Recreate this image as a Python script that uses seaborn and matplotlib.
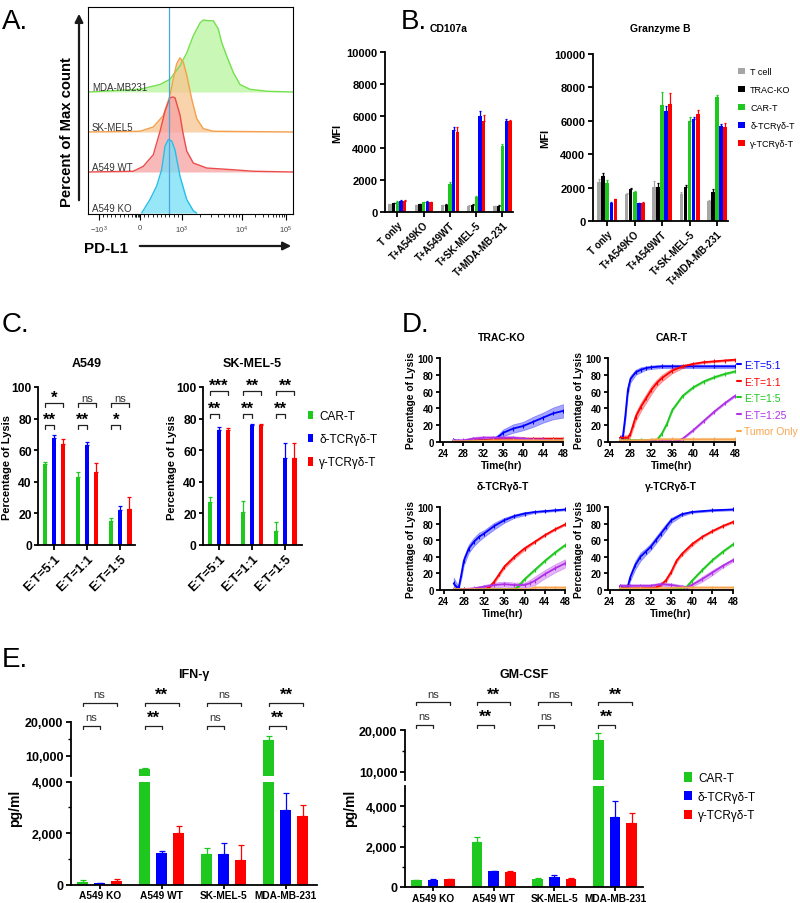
import numpy as np
import pandas as pd
import matplotlib
matplotlib.use("Agg")
import matplotlib.pyplot as plt
import seaborn as sns
from matplotlib.transforms import blended_transform_factory
from matplotlib.lines import Line2D
from matplotlib.patches import Patch

# ======================= DATA =======================
# ---- Panel A: PD-L1 flow histograms (x: display channel, y: % of max) ----
a_labels = ["MDA-MB231", "SK-MEL5", "A549 WT", "A549 KO"]
a_mda_x = [0, 52, 72, 82, 92, 98.7, 105.3, 112, 115.3, 120.3, 125.3, 130.3, 133.7, 138.7, 145.3, 152, 162, 178.7, 205]
a_mda_y = [0, 3.6, 10, 17, 35, 52, 75, 92, 96, 95, 95, 84, 66, 48, 26, 10, 3.6, 1, 0]
a_sk_x = [0, 52, 65.3, 75.3, 82, 85.3, 88.7, 92, 95.3, 98.7, 103.7, 108.7, 115.3, 125.3, 205]
a_sk_y = [0, 1, 6.7, 22, 49, 71, 91, 99, 93, 76, 44, 18, 4.4, 1, 0]
a_wt_x = [0, 45.3, 55.3, 65.3, 72, 77, 82, 84.7, 87, 92, 94.7, 98.7, 105.3, 118.7, 145.3, 165.3, 205]
a_wt_y = [0, 1, 7.6, 23, 54, 81, 99, 100, 99, 76, 54, 28, 12, 5.3, 3, 1, 0]
a_ko_x = [53.7, 62, 68.7, 73.7, 77, 80.3, 83.7, 87, 92, 98.7, 105.3, 108.7]
a_ko_y = [0, 18, 36, 58, 89, 98, 96, 84, 49, 18, 3, 0]
a_tick_pos = [11, 52, 94, 154, 198]
a_tick_lab = [r"$-10^3$", "0", r"$10^3$", r"$10^4$", r"$10^5$"]
a_gate = 81

# ---- Panel B: MFI ----
b_groups = ["T only", "T+A549KO", "T+A549WT", "T+SK-MEL-5", "T+MDA-MB-231"]
b_series = ["T cell", "TRAC-KO", "CAR-T", "δ-TCRγδ-T", "γ-TCRγδ-T"]
cd107a_mean = [[480, 420, 420, 380, 380],
               [540, 500, 460, 440, 400],
               [650, 610, 1780, 920, 4140],
               [710, 650, 5130, 6030, 5670],
               [710, 610, 4980, 5710, 5710]]
cd107a_err = [[40, 30, 30, 30, 20],
              [40, 30, 30, 30, 20],
              [40, 30, 70, 60, 100],
              [40, 30, 210, 270, 150],
              [40, 30, 350, 360, 40]]
gzmb_mean = [[2340, 1600, 2060, 1640, 1200],
             [2700, 1900, 2060, 2040, 1760],
             [2300, 1740, 6940, 6000, 7400],
             [1100, 1060, 6600, 6100, 5660],
             [1300, 1100, 6980, 6400, 5600]]
gzmb_err = [[200, 60, 340, 80, 40],
            [200, 60, 240, 140, 180],
            [140, 60, 760, 200, 160],
            [40, 30, 280, 140, 140],
            [40, 40, 660, 260, 240]]

# ---- Panel C: lysis ----
c_groups = ["E:T=5:1", "E:T=1:1", "E:T=1:5"]
c_series = ["CAR-T", "δ-TCRγδ-T", "γ-TCRγδ-T"]
a549_mean = [[51, 43, 15], [67.5, 63, 22], [64, 46, 22.5]]
a549_err = [[1.5, 3, 2], [2, 2.5, 2.5], [3, 6, 8]]
sk_mean = [[27.4, 21, 9], [73, 76, 55], [73, 76, 55]]
sk_err = [[3, 7, 5.5], [2, 0.6, 9.5], [1, 0.6, 9.5]]
a549_sig_low = ["**", "**", "*"]
a549_sig_up = ["*", "ns", "ns"]
sk_sig_low = ["**", "**", "**"]
sk_sig_up = ["***", "**", "**"]

# ---- Panel D: real-time lysis (time hr, mean %, band half-width) ----
d_series = ["E:T=5:1", "E:T=1:1", "E:T=1:5", "E:T=1:25", "Tumor Only"]
d_trac = {
    "E:T=5:1": ([26, 27, 28, 30, 32, 34, 35, 36, 38, 40, 42, 44, 46, 48],
                [2, 1, 1, 1, 2, 3, 6, 11, 16, 19, 24, 29, 34, 37],
                [2, 1, 1, 1, 1, 2, 3, 4, 5, 5, 6, 6, 7, 8]),
    "E:T=1:1": ([26, 28, 30, 32, 34, 36, 38, 40, 42, 44, 46, 48],
                [1, 1, 2, 2, 3, 4, 4, 4, 4, 4, 4, 4],
                [1, 1, 1, 1, 1, 1, 1, 1, 1, 1, 1, 1]),
    "E:T=1:5": ([26, 30, 34, 38, 42, 46, 48],
                [1, 1, 1, 1, 1, 2, 2],
                [1, 1, 1, 1, 1, 1, 1]),
    "E:T=1:25": ([26, 28, 30, 32, 34, 36, 38, 40, 42, 44, 46, 48],
                 [2, 2, 4, 5, 5, 5, 5, 4, 3, 3, 2, 2],
                 [1, 1, 2, 2, 2, 2, 2, 2, 1, 1, 1, 1]),
    "Tumor Only": ([26, 30, 34, 38, 42, 46, 48],
                   [1, 1, 2, 2, 2, 2, 2],
                   [1, 1, 1, 1, 1, 1, 1]),
}
d_cart = {
    "E:T=5:1": ([26, 26.5, 27, 27.5, 28, 29, 30, 31, 32, 34, 36, 40, 44, 48],
                [5, 4, 30, 62, 75, 83, 86, 88, 89, 90, 90, 90, 90, 90],
                [3, 3, 5, 5, 4, 3, 3, 2, 2, 2, 2, 2, 2, 2]),
    "E:T=1:1": ([26, 27, 27.5, 28, 28.5, 29, 30, 31, 32, 33, 34, 36, 38, 40, 42, 44, 46, 48],
                [5, 5, 5, 10, 20, 30, 42, 52, 62, 70, 76, 85, 90, 93, 95, 96, 97, 98],
                [3, 3, 3, 3, 4, 5, 5, 5, 5, 4, 4, 3, 2, 1, 1, 1, 1, 1]),
    "E:T=1:5": ([26, 28, 30, 32, 33, 34, 35, 36, 38, 40, 42, 44, 46, 48],
                [2, 2, 2, 2, 2, 10, 22, 38, 55, 65, 72, 77, 81, 84],
                [1, 1, 1, 1, 1, 1, 1, 1, 1, 1, 1, 1, 1, 1]),
    "E:T=1:25": ([26, 30, 34, 37, 38, 40, 42, 44, 46, 48],
                 [1, 1, 1, 1, 4, 14, 25, 36, 46, 55],
                 [1, 1, 1, 1, 1, 1, 1, 1, 1, 1]),
    "Tumor Only": ([26, 30, 33, 36, 40, 44, 48],
                   [2, 2, 3, 3, 3, 3, 3],
                   [1, 1, 2, 2, 2, 2, 2]),
}
d_delta = {
    "E:T=5:1": ([26, 26.5, 27, 27.5, 28, 29, 30, 31, 32, 34, 36, 38, 40, 42, 44, 46, 48],
                [8, 4, 3, 18, 35, 50, 58, 64, 68, 77, 84, 89, 92, 94, 95, 96, 97],
                [7, 5, 2, 4, 5, 5, 5, 5, 4, 4, 3, 2, 2, 1, 1, 1, 1]),
    "E:T=1:1": ([26, 28, 30, 32, 33, 34, 35, 36, 38, 40, 42, 44, 46, 48],
                [1, 1, 1, 1, 3, 10, 19, 28, 40, 50, 58, 66, 73, 79],
                [1, 1, 1, 1, 1, 2, 2, 2, 2, 2, 1, 1, 1, 1]),
    "E:T=1:5": ([26, 30, 34, 38, 38.5, 39, 40, 42, 44, 46, 48],
                [1, 1, 1, 1, 3, 6, 13, 24, 35, 45, 54],
                [1, 1, 1, 1, 1, 1, 1, 1, 1, 1, 1]),
    "E:T=1:25": ([26, 28, 30, 32, 34, 36, 38, 40, 41, 42, 44, 46, 48],
                 [1, 1, 2, 4, 6, 7, 6, 6, 8, 11, 19, 26, 32],
                 [1, 1, 1, 2, 3, 3, 3, 3, 4, 5, 5, 5, 5]),
    "Tumor Only": ([26, 30, 34, 38, 41, 42, 44, 46, 48],
                   [1, 1, 1, 1, 1, 3, 3, 3, 3],
                   [1, 1, 1, 1, 1, 1, 1, 1, 1]),
}
d_gamma = {
    "E:T=5:1": ([26, 26.5, 27, 27.5, 28, 29, 30, 31, 32, 33, 34, 35, 36, 38, 40, 44, 48],
                [4, 3, 2, 3, 15, 30, 40, 46, 52, 60, 68, 76, 84, 91, 94, 96, 97],
                [3, 3, 2, 3, 4, 5, 5, 4, 4, 4, 4, 4, 3, 2, 1, 1, 1]),
    "E:T=1:1": ([26, 30, 33, 34, 35, 36, 37, 38, 40, 42, 44, 46, 48],
                [2, 2, 3, 6, 12, 22, 35, 43, 55, 64, 71, 77, 82],
                [1, 1, 1, 1, 2, 2, 2, 2, 2, 1, 1, 1, 1]),
    "E:T=1:5": ([26, 30, 34, 38, 38.5, 39, 40, 42, 44, 46, 48],
                [1, 1, 1, 1, 2, 4, 11, 24, 36, 46, 55],
                [1, 1, 1, 1, 1, 1, 1, 1, 1, 1, 1]),
    "E:T=1:25": ([26, 28, 30, 32, 34, 36, 38, 39, 40, 42, 44, 46, 48],
                 [5, 5, 5, 5, 7, 6, 4, 3, 6, 13, 21, 29, 36],
                 [2, 2, 2, 2, 2, 2, 2, 2, 2, 3, 3, 2, 2]),
    "Tumor Only": ([26, 30, 34, 38, 40, 44, 48],
                   [2, 2, 2, 3, 3, 3, 3],
                   [1, 1, 1, 1, 1, 1, 1]),
}

# ---- Panel E: cytokines (pg/ml) ----
e_groups = ["A549 KO", "A549 WT", "SK-MEL-5", "MDA-MB-231"]
ifn_mean = [[100, 6100, 1200, 14600], [50, 1250, 1200, 2900], [150, 2025, 943, 2674]]
ifn_err = [[80, 300, 220, 1300], [20, 40, 415, 660], [70, 255, 607, 426]]
gm_mean = [[330, 2250, 400, 17600], [360, 770, 500, 3450], [390, 750, 420, 3170]]
gm_err = [[20, 250, 30, 1600], [30, 30, 100, 800], [20, 30, 40, 480]]
e_sig_low = ["ns", "**", "ns", "**"]
e_sig_up = ["ns", "**", "ns", "**"]

# ======================= STYLE =======================
GRAY, BLACK, GREEN, BLUE, RED = "#a6a6a6", "#000000", "#1ec81e", "#0000ff", "#ff0000"
MAG, ORANGE = "#b030e8", "#f7a54f"
pal_b = dict(zip(b_series, [GRAY, BLACK, GREEN, BLUE, RED]))
pal_c = dict(zip(c_series, [GREEN, BLUE, RED]))
pal_d = dict(zip(d_series, [BLUE, RED, GREEN, MAG, ORANGE]))

sns.set_theme(style="ticks")
plt.rcParams.update({
    "font.family": ["Liberation Sans", "DejaVu Sans"],
    "font.weight": "bold",
    "axes.labelweight": "bold",
    "axes.titleweight": "bold",
    "axes.linewidth": 1.3,
    "axes.edgecolor": "black",
    "text.color": "black",
    "axes.labelcolor": "black",
    "xtick.color": "black",
    "ytick.color": "black",
    "xtick.major.width": 1.3,
    "ytick.major.width": 1.3,
    "xtick.minor.width": 1.0,
    "ytick.minor.width": 1.0,
    "xtick.major.size": 3.5,
    "ytick.major.size": 3.5,
    "ytick.minor.size": 2.5,
    "xtick.major.pad": 2,
    "ytick.major.pad": 2,
    "mathtext.default": "regular",
})

W, H = 800, 904
fig = plt.figure(figsize=(W / 100, H / 100), dpi=100)


def rect(l, t, r, b):
    return [l / W, 1 - b / H, (r - l) / W, (b - t) / H]


def fy(px):
    return 1 - px / H


def style_ax(ax):
    sns.despine(ax=ax)
    ax.tick_params(direction="out")


def bars(ax, groups, series, values, errors, palette, width, gap, capsize=1.5):
    rows = []
    for s, vals in zip(series, values):
        for g, v in zip(groups, vals):
            rows.append((g, s, v))
    df = pd.DataFrame(rows, columns=["group", "series", "value"])
    sns.barplot(data=df, x="group", y="value", hue="series", order=groups, hue_order=series,
                palette=palette, width=width, gap=gap, errorbar=None, legend=False,
                saturation=1, linewidth=0, ax=ax)
    rects = sorted(ax.patches, key=lambda p: p.get_x())
    centers = {}
    i = 0
    for gi in range(len(groups)):
        for si in range(len(series)):
            p = rects[i]
            centers[(gi, si)] = p.get_x() + p.get_width() / 2
            i += 1
    for si, s in enumerate(series):
        xs = [centers[(gi, si)] for gi in range(len(groups))]
        ax.errorbar(xs, values[si], yerr=[np.zeros(len(groups)), errors[si]], fmt="none",
                    ecolor=palette[s], elinewidth=0.9, capsize=capsize, capthick=0.9)
    ax.set_xlabel("")
    ax.set_ylabel("")
    return centers


def bracket(ax, x1, x2, y, dy, text, ty, tr):
    ax.plot([x1, x1, x2, x2], [y - dy, y, y, y - dy], color="#222222", lw=0.9,
            transform=tr, clip_on=False)
    if text == "ns":
        ax.text((x1 + x2) / 2, ty, text, transform=tr, ha="center", va="center",
                fontsize=8, fontweight="normal", color="#333333", clip_on=False)
    else:
        ax.text((x1 + x2) / 2, ty, text, transform=tr, ha="center", va="center",
                fontsize=12, fontweight="bold", clip_on=False)


# ======================= PANEL A =======================
axA = fig.add_axes(rect(88, 8, 293, 215))
hist_specs = [
    (a_mda_x, a_mda_y, "#b8f59c", "#74e04e", 122),
    (a_sk_x, a_sk_y, "#f8c590", "#f4a04c", 82),
    (a_wt_x, a_wt_y, "#f7a2a2", "#ec4c4c", 42),
    (a_ko_x, a_ko_y, "#74dff7", "#26bfea", 1),
]
hscale = 0.75
for (xs, ys, face, edge, off), lab in zip(hist_specs, a_labels):
    yv = off + np.array(ys) * hscale
    axA.fill_between(xs, off, yv, color=face, alpha=0.75, lw=0)
    sns.lineplot(x=xs, y=yv, ax=axA, color=edge, lw=1.0, sort=False)
    axA.text(4, off + 5, lab, fontsize=7, fontweight="normal", color="#333333", va="center")
axA.axvline(a_gate, color="#4aa6e0", lw=0.9)
axA.set_xlim(0, 205)
axA.set_ylim(0, 207)
axA.set_yticks([])
axA.set_xticks(a_tick_pos)
axA.set_xticklabels(a_tick_lab, fontsize=5.5, fontweight="normal", color="#444444")
minor = []
minor += [11 + k * 4.1 for k in range(1, 10)]
minor += [52 - k * 1.2 for k in range(1, 5)] + [52 + k * 4.2 for k in range(1, 10)]
minor += [94 + 60 * np.log10(k) for k in range(2, 10)]
minor += [154 + 44 * np.log10(k) for k in range(2, 10)]
axA.set_xticks(minor, minor=True)
axA.tick_params(axis="x", which="major", length=4, width=0.8, pad=3)
axA.tick_params(axis="x", which="minor", length=2.5, width=0.6)
for sp in axA.spines.values():
    sp.set_linewidth(0.8)
axA.set_xlabel("")
axA.set_ylabel("")
fig.text(67 / W, fy(132), "Percent of Max count", rotation=90, ha="center", va="center",
         fontsize=10.7, fontweight="bold")
fig.text(106 / W, fy(249), "PD-L1", ha="center", va="center", fontsize=11, fontweight="bold")
axA.annotate("", xy=(79, H - 12), xytext=(79, H - 204), xycoords="figure pixels",
             textcoords="figure pixels",
             arrowprops=dict(arrowstyle="-|>", lw=1.6, color="k", mutation_scale=12))
axA.annotate("", xy=(294, H - 247), xytext=(137, H - 247), xycoords="figure pixels",
             textcoords="figure pixels",
             arrowprops=dict(arrowstyle="-|>", lw=1.6, color="k", mutation_scale=12))

# ======================= PANEL B =======================
axB1 = fig.add_axes(rect(385, 53, 513, 213))
bars(axB1, b_groups, b_series, cd107a_mean, cd107a_err, pal_b, 0.7, 0.1, capsize=1)
axB1.set_xlim(-0.47, 4.4)
axB2 = fig.add_axes(rect(593, 55, 728, 222))
bars(axB2, b_groups, b_series, gzmb_mean, gzmb_err, pal_b, 0.74, 0.1, capsize=1)
axB2.set_xlim(-0.52, 4.4)
for ax, title, pad in [(axB1, "CD107a", 15), (axB2, "Granzyme B", 16.5)]:
    style_ax(ax)
    ax.set_ylim(0, 10000)
    ax.set_yticks(range(0, 10001, 2000))
    ax.tick_params(labelsize=8)
    ax.set_xticks(range(len(b_groups)))
    ax.set_xticklabels(b_groups, rotation=45, ha="right", rotation_mode="anchor", fontsize=7)
    ax.set_ylabel("MFI", fontsize=8, labelpad=3)
    ax.set_title(title, fontsize=7.5, pad=pad)
fig.legend(handles=[Patch(facecolor=pal_b[s], edgecolor="none") for s in b_series],
           labels=b_series, loc="upper left", bbox_to_anchor=(738 / W, fy(68)),
           frameon=False, prop={"weight": "normal", "size": 6.5},
           handlelength=0.75, handleheight=0.75, handletextpad=0.6, labelspacing=1.0,
           borderpad=0, borderaxespad=0)

# ======================= PANEL C =======================
axC1 = fig.add_axes(rect(38, 388, 135, 546))
axC2 = fig.add_axes(rect(203, 388, 302, 546))
for ax, title, mean, err, low, up, ylow, yup, tlow, tup, xl in [
    (axC1, "A549", a549_mean, a549_err, a549_sig_low, a549_sig_up, 76, 89.7, 79.5, 93.2, (-0.49, 2.44)),
    (axC2, "SK-MEL-5", sk_mean, sk_err, sk_sig_low, sk_sig_up, 83, 97.5, 86.8, 100.8, (-0.48, 2.5)),
]:
    cen = bars(ax, c_groups, c_series, mean, err, pal_c, 0.82, 0.55, capsize=1.5)
    style_ax(ax)
    ax.set_xlim(*xl)
    ax.set_ylim(0, 100)
    ax.set_yticks(range(0, 101, 20))
    ax.tick_params(axis="y", labelsize=8.7, length=3, pad=1.5)
    ax.tick_params(axis="x", labelsize=9)
    ax.set_xticks(range(len(c_groups)))
    ax.set_xticklabels(c_groups, rotation=45, ha="right", rotation_mode="anchor", fontsize=9)
    ax.set_ylabel("Percentage of Lysis", fontsize=8)
    ax.yaxis.set_label_coords(-0.265, 0.5)
    ax.set_title(title, fontsize=9, pad=15)
    for gi in range(len(c_groups)):
        bracket(ax, cen[(gi, 0)], cen[(gi, 1)], ylow, 2.6, low[gi], tlow, ax.transData)
        bracket(ax, cen[(gi, 0)], cen[(gi, 2)], yup, 2.6, up[gi], tup, ax.transData)
fig.legend(handles=[Patch(facecolor=pal_c[s], edgecolor="none") for s in c_series],
           labels=c_series, loc="upper left", bbox_to_anchor=(308 / W, fy(411)),
           frameon=False, prop={"weight": "normal", "size": 8.5},
           handlelength=0.42, handleheight=0.76, handletextpad=0.55, labelspacing=0.95,
           borderpad=0, borderaxespad=0)

# ======================= PANEL D =======================
d_panels = [
    (rect(440, 359, 563, 443), "TRAC-KO", d_trac, (23.3, 48)),
    (rect(608, 359, 735, 443), "CAR-T", d_cart, (23.7, 48)),
    (rect(440, 508, 565, 591), "δ-TCRγδ-T", d_delta, (23.3, 48)),
    (rect(608, 508, 733, 591), "γ-TCRγδ-T", d_gamma, (23.7, 48)),
]
for r, title, data, xl in d_panels:
    ax = fig.add_axes(r)
    for s in d_series:
        t, y, e = data[s]
        y = np.array(y, float)
        e = np.array(e, float)
        c = pal_d[s]
        ax.fill_between(t, np.clip(y - e, 0, None), y + e, color=c, alpha=0.35, lw=0.6,
                        edgecolor=c)
        sns.lineplot(x=t, y=y, ax=ax, color=c, lw=1.3, sort=False, marker="|",
                     markersize=3, markeredgewidth=0.8, markeredgecolor=c)
    style_ax(ax)
    ax.set_xlim(*xl)
    ax.set_ylim(0, 100)
    ax.set_xticks(range(24, 49, 4))
    ax.set_yticks(range(0, 101, 20))
    ax.tick_params(labelsize=7, length=3, pad=1.5)
    ax.set_xlabel("Time(hr)", fontsize=7.4, labelpad=1)
    ax.set_ylabel("Percentage of Lysis", fontsize=7.4, labelpad=1.5)
    ax.set_title(title, fontsize=7.5, pad=13)
fig.legend(handles=[Line2D([0], [0], color=pal_d[s], lw=1.5) for s in d_series],
           labels=d_series, loc="upper left", bbox_to_anchor=(737 / W, fy(361)),
           frameon=False, prop={"weight": "normal", "size": 7.5},
           labelcolor=[pal_d[s] for s in d_series],
           handlelength=0.35, handletextpad=0.35, labelspacing=0.63,
           borderpad=0, borderaxespad=0)

# ======================= PANEL E =======================
e_panels = [
    (71, 317, (722.7, 777.4), (782.7, 885.7), (4000, 20000), (0, 4000), ifn_mean, ifn_err,
     "IFN-γ", 15, (-0.46, 3.5), [1000, 3000], (726.7, 718.5, 704, 695.5)),
    (405, 643, (731, 781), (787, 888), (8000, 20000), (0, 5000), gm_mean, gm_err,
     "GM-CSF", 350, (-0.46, 3.46), [1000, 3000], (726, 717.5, 703, 695)),
]
for (l, rgt, (ut, ub), (lt, lb), uy, ly, mean, err, title, ylx, xl, lminor, sig) in e_panels:
    axU = fig.add_axes(rect(l, ut, rgt, ub))
    axL = fig.add_axes(rect(l, lt, rgt, lb))
    cen = bars(axU, e_groups, c_series, mean, err, pal_c, 0.82, 0.35, capsize=2.5)
    bars(axL, e_groups, c_series, mean, err, pal_c, 0.82, 0.35, capsize=2.5)
    for ax in (axU, axL):
        style_ax(ax)
        ax.set_xlim(*xl)
        ax.tick_params(labelsize=9)
    axU.set_ylim(*uy)
    axU.set_yticks([10000, 20000])
    axU.set_yticklabels(["10,000", "20,000"])
    axU.set_yticks([15000], minor=True)
    axU.spines["bottom"].set_visible(False)
    axU.tick_params(axis="x", bottom=False, labelbottom=False)
    axU.tick_params(axis="y", which="minor", length=2.5)
    axL.set_ylim(*ly)
    axL.set_yticks([0, 2000, 4000])
    axL.set_yticklabels(["0", "2,000", "4,000"])
    axL.set_yticks(lminor, minor=True)
    axL.tick_params(axis="y", which="minor", length=2.5)
    axL.set_xticks(range(len(e_groups)))
    axL.set_xticklabels(e_groups, fontsize=7.3)
    axL.tick_params(axis="x", length=3, pad=1)
    fig.text((l + rgt) / 2 / W, fy(675), title, ha="center", va="center", fontsize=9,
             fontweight="bold")
    fig.text(ylx / W, fy(808), "pg/ml", rotation=90, ha="center", va="center", fontsize=10,
             fontweight="bold")
    tr = blended_transform_factory(axU.transData, fig.transFigure)
    yl, tl, yu, tu = sig
    for gi in range(len(e_groups)):
        bracket(axU, cen[(gi, 0)], cen[(gi, 1)], fy(yl), 3.3 / H, e_sig_low[gi], fy(tl), tr)
        bracket(axU, cen[(gi, 0)], cen[(gi, 2)], fy(yu), 3.3 / H, e_sig_up[gi], fy(tu), tr)
fig.legend(handles=[Patch(facecolor=pal_c[s], edgecolor="none") for s in c_series],
           labels=c_series, loc="upper left", bbox_to_anchor=(684 / W, fy(773)),
           frameon=False, prop={"weight": "normal", "size": 8.5},
           handlelength=0.68, handleheight=0.85, handletextpad=0.5, labelspacing=0.57,
           borderpad=0, borderaxespad=0)

# ======================= PANEL LETTERS =======================
for x, y, s in [(2, 22, "A."), (401, 22, "B."), (2, 325, "C."), (402, 325, "D."), (2, 660, "E.")]:
    fig.text(x / W, fy(y), s, ha="left", va="center", fontsize=20, fontweight="normal")

fig.savefig("out.png", dpi=100)
